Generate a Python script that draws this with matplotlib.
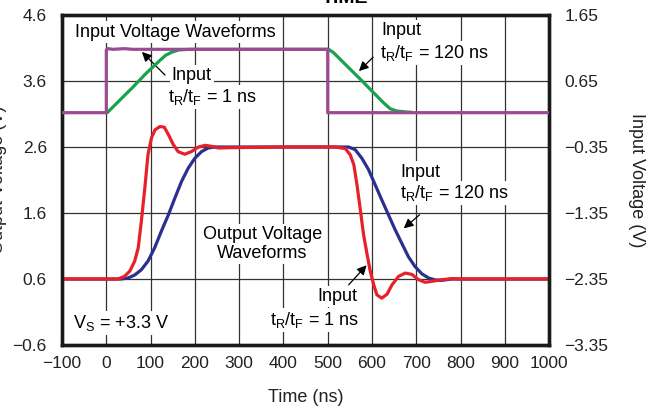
import matplotlib
matplotlib.use("Agg")
import matplotlib.pyplot as plt
import numpy as np

plt.rcParams['font.family'] = ['Liberation Sans', 'DejaVu Sans']
plt.rcParams['mathtext.fontset'] = 'custom'
plt.rcParams['mathtext.rm'] = 'Liberation Sans'
plt.rcParams['mathtext.it'] = 'Liberation Sans:italic'

# ---------------- data ----------------
# Input 1 ns edges (purple), right axis (V)
in_fast_t = [-100, 0, 0, 4, 15, 40, 60, 500, 500, 1000]
in_fast_v = [0.17, 0.17, 1.12, 1.14, 1.13, 1.14, 1.13, 1.13, 0.17, 0.17]

# Input 120 ns edges (green), right axis (V)
in_slow_t = [2, 29, 59, 89, 119, 134, 149, 164, 187, 500, 502, 513, 543, 574, 604, 626, 641, 656, 679, 690]
in_slow_v = [0.17, 0.35, 0.55, 0.76, 0.95, 1.04, 1.09, 1.12, 1.13, 1.13, 1.13, 1.08, 0.88, 0.675, 0.47,
             0.32, 0.23, 0.195, 0.18, 0.175]

# Output for 120 ns input (blue), left axis (V)
out_slow_t = [-100, 34, 49, 64, 79, 94, 109, 124, 140, 155, 170, 185, 200, 215, 230, 245, 300, 400,
              500, 547, 562, 577, 592, 607, 622, 637, 652, 667, 682, 697, 713, 728, 743, 758, 780, 1000]
out_slow_v = [0.6, 0.6, 0.615, 0.66, 0.74, 0.87, 1.07, 1.32, 1.57, 1.83, 2.08, 2.28, 2.43, 2.53, 2.585,
              2.6, 2.6, 2.6, 2.6, 2.6, 2.56, 2.43, 2.26, 2.03, 1.80, 1.575, 1.35, 1.145, 0.94, 0.79,
              0.676, 0.615, 0.585, 0.58, 0.6, 0.6]

# Output for 1 ns input (red), left axis (V)
out_fast_t = [-100, 26, 41, 53, 64, 72, 79, 87, 94, 102, 110, 121, 131, 140, 151, 162, 177, 192, 208,
              223, 238, 253, 283, 400, 517, 540, 551, 559, 566, 574, 581, 589, 596, 604, 611, 622, 634,
              645, 660, 675, 690, 705, 720, 735, 758, 780, 803, 1000]
out_fast_v = [0.6, 0.6, 0.64, 0.72, 0.87, 1.07, 1.47, 1.98, 2.48, 2.74, 2.86, 2.91, 2.90, 2.79, 2.64,
              2.53, 2.49, 2.53, 2.6, 2.625, 2.61, 2.585, 2.59, 2.6, 2.6, 2.575, 2.48, 2.33, 2.03, 1.63,
              1.27, 0.97, 0.72, 0.51, 0.36, 0.31, 0.37, 0.51, 0.64, 0.69, 0.67, 0.59, 0.55, 0.565,
              0.59, 0.605, 0.6, 0.6]

x_ticks = [-100, 0, 100, 200, 300, 400, 500, 600, 700, 800, 900, 1000]
x_tick_labels = ["\u2212100", "0", "100", "200", "300", "400", "500", "600", "700", "800", "900", "1000"]
left_tick_labels = ["\u22120.6", "0.6", "1.6", "2.6", "3.6", "4.6"]
right_tick_labels = ["\u22123.35", "\u22122.35", "\u22121.35", "\u22120.35", "0.65", "1.65"]

# ---------------- colours ----------------
c_red = '#E8202A'
c_blue = '#2B2F8F'
c_green = '#17A24B'
c_purple = '#9C4A92'

fig = plt.figure(figsize=(6.6, 4.12), dpi=100)
ax = fig.add_axes([0.094, 0.1626, 0.738, 0.801])
ax2 = ax.twinx()

ax.set_xlim(-100, 1000)
ax.set_ylim(-0.4, 4.6)
ax2.set_ylim(-3.35, 1.65)

ax.set_xticks(x_ticks)
ax.set_xticklabels(x_tick_labels)
ax.set_yticks(np.arange(-0.4, 4.61, 1.0))
ax.set_yticklabels(left_tick_labels)
ax2.set_yticks(np.arange(-3.35, 1.66, 1.0))
ax2.set_yticklabels(right_tick_labels)

for a in (ax, ax2):
    a.tick_params(length=0, labelsize=12.5, colors='#222222')
ax.tick_params(axis='y', pad=11)
ax.tick_params(axis='x', pad=8)
ax2.tick_params(axis='y', pad=11)

ax.grid(True, color='#333333', linewidth=0.9)
ax.set_axisbelow(True)
for a in (ax, ax2):
    for s in a.spines.values():
        s.set_linewidth(2.4)
        s.set_color('#1a1a1a')

ax2.plot(in_slow_t, in_slow_v, color=c_green, lw=2.3, solid_capstyle='round', zorder=3)
ax2.plot(in_fast_t, in_fast_v, color=c_purple, lw=2.3, zorder=4)
ax.plot(out_slow_t, out_slow_v, color=c_blue, lw=2.3, solid_joinstyle='round', zorder=3)
ax.plot(out_fast_t, out_fast_v, color=c_red, lw=2.3, solid_joinstyle='round', zorder=4)

box = dict(facecolor='white', edgecolor='none', pad=1.5)
fs = 13
tr = r'$\mathregular{t_R/t_F}$'

ax.text(155, 4.34, 'Input Voltage Waveforms', ha='center', va='center', fontsize=fs, bbox=box, zorder=6)
ax.text(352, 1.13, 'Output Voltage\nWaveforms', ha='center', va='center', fontsize=fs,
        linespacing=1.2, bbox=box, zorder=6)
ax.text(-75, -0.07, r'V$_\mathregular{S}$ = +3.3 V', ha='left', va='center', fontsize=fs, bbox=box, zorder=6)

arrow = dict(arrowstyle='-|>', color='black', lw=0.9, mutation_scale=14)

# annotation top-left (1 ns input)
ax.text(148, 3.68, 'Input', ha='left', va='center', fontsize=fs, bbox=box, zorder=6)
ax.text(139, 3.36, tr + ' = 1 ns', ha='left', va='center', fontsize=fs, bbox=box, zorder=6)
ax.annotate('', xy=(76, 4.07), xytext=(137, 3.66), arrowprops=arrow, zorder=7)

# annotation top-right (120 ns input)
ax.text(621, 4.37, 'Input', ha='left', va='center', fontsize=fs, bbox=box, zorder=6)
ax.text(619, 4.02, tr + ' = 120 ns', ha='left', va='center', fontsize=fs, bbox=box, zorder=6)
ax.annotate('', xy=(566, 3.72), xytext=(607, 3.99), arrowprops=arrow, zorder=7)

# annotation mid-right (120 ns output)
ax.text(663, 2.22, 'Input', ha='left', va='center', fontsize=fs, bbox=box, zorder=6)
ax.text(663, 1.90, tr + ' = 120 ns', ha='left', va='center', fontsize=fs, bbox=box, zorder=6)
ax.annotate('', xy=(667, 1.34), xytext=(712, 1.60), arrowprops=arrow, zorder=7)

# annotation lower (1 ns output)
ax.text(476, 0.34, 'Input', ha='left', va='center', fontsize=fs, bbox=box, zorder=6)
ax.text(370, -0.02, tr + ' = 1 ns', ha='left', va='center', fontsize=fs, bbox=box, zorder=6)
ax.annotate('', xy=(592, 0.84), xytext=(543, 0.48), arrowprops=arrow, zorder=7)

fig.text(0.4625, 0.036, 'Time (ns)', ha='center', va='center', fontsize=fs, color='#222222')
fig.text(0.965, 0.563, 'Input Voltage (V)', ha='center', va='center', rotation=270, fontsize=fs, color='#222222')
fig.text(-0.002, 0.563, 'Output Voltage (V)', ha='center', va='center', rotation=90, fontsize=fs, color='#222222')
fig.text(0.523, 0.992, 'TIME', ha='center', va='baseline', fontsize=14, fontweight='bold')

fig.savefig('out.png', dpi=100)
